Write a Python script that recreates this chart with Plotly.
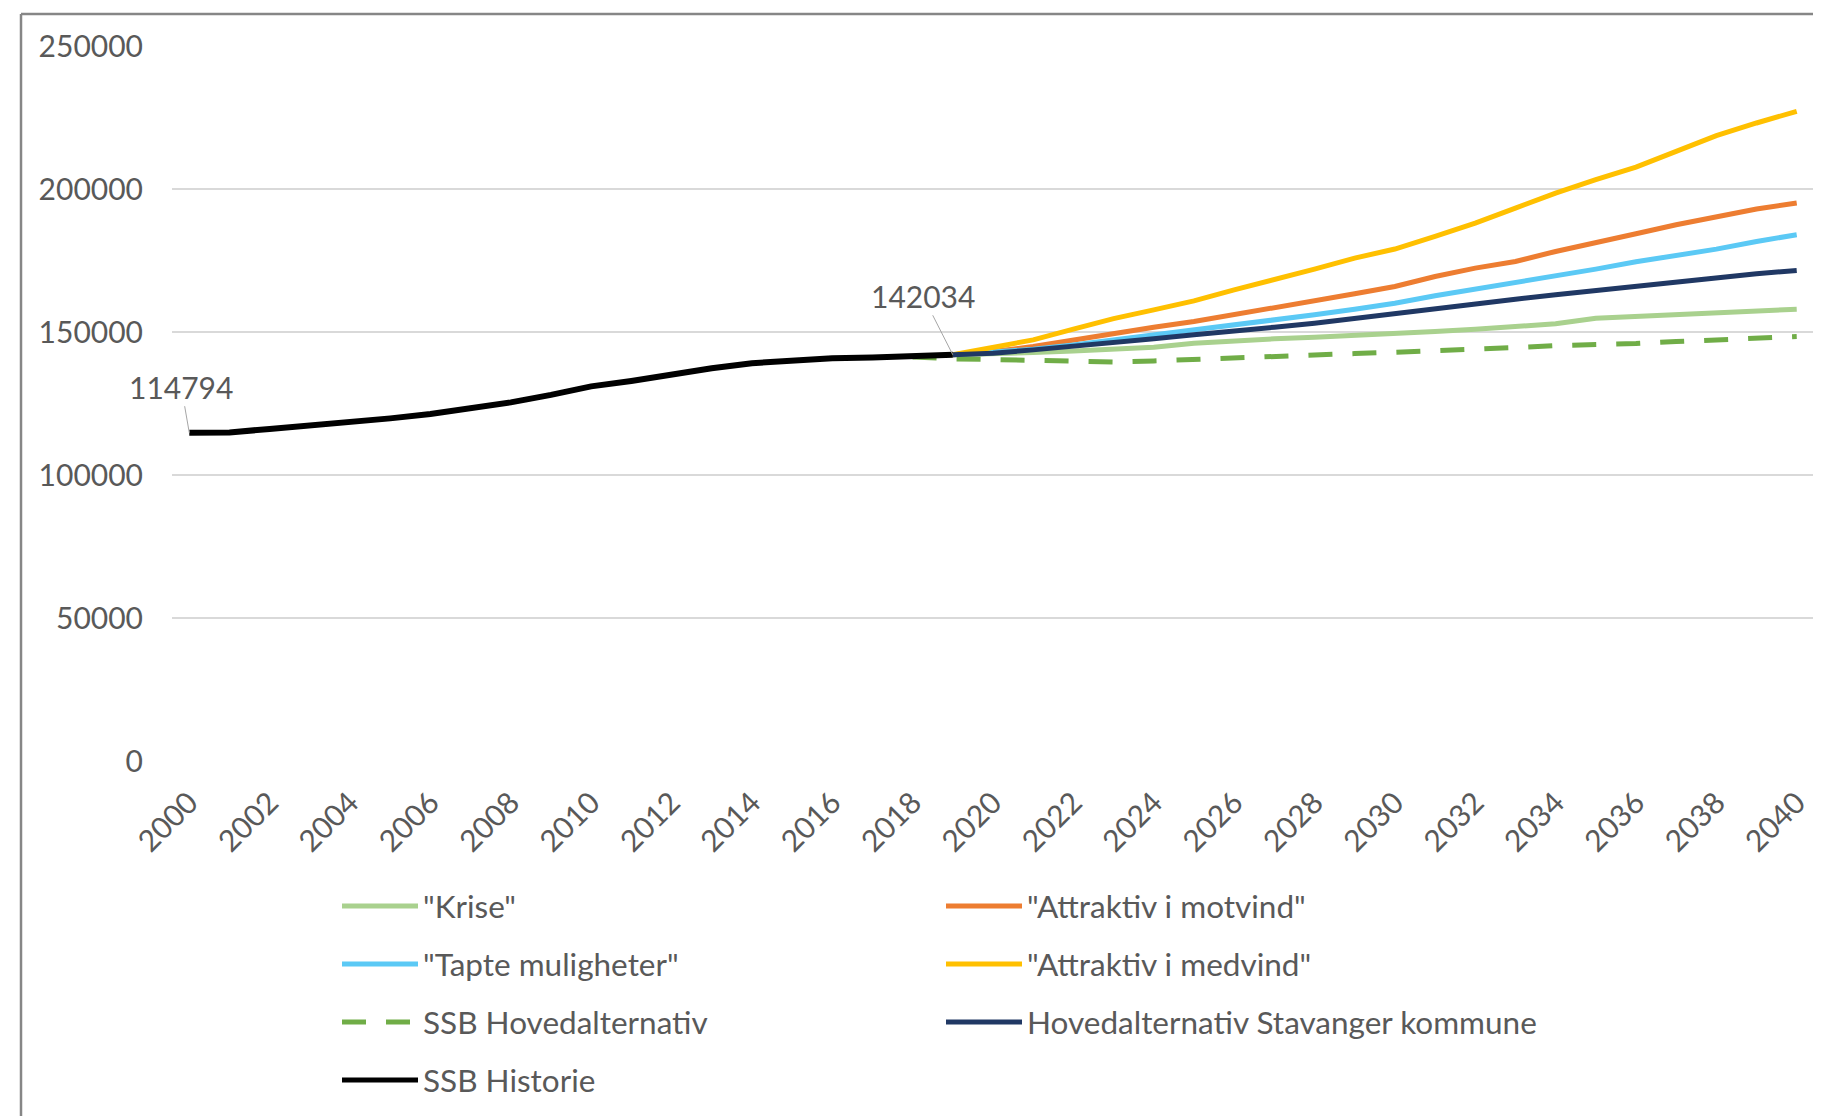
import plotly.graph_objects as go

# Befolkning Stavanger, historikk og scenarier
HIST_YEARS = list(range(2000, 2020))
SSB_HISTORIE = [114794, 114900, 116100, 117200, 118400, 119800, 121300, 123300, 125400, 128000,
                131000, 132900, 135200, 137300, 139100, 140200, 140800, 141100, 141500, 142034]

PROJ_YEARS = list(range(2019, 2041))
KRISE = [142034, 142245, 142800, 143400, 143980, 144690, 146090, 147000, 147600, 148200, 148760,
         149350, 150160, 150980, 151910, 152850, 154840, 155410, 156000, 156580, 157280, 157980]
MOTVIND = [142034, 143150, 144900, 147250, 149580, 151680, 153660, 156000, 158330, 160660, 163350,
           165910, 169410, 172330, 174660, 178160, 181080, 184350, 187490, 190410, 193000, 195080]
TAPTE = [142034, 142800, 143980, 145500, 147250, 148760, 150510, 152150, 153900, 156000, 157990,
         160080, 162650, 164980, 167310, 169410, 171980, 174550, 176650, 178980, 181650, 184000]
MEDVIND = [142034, 144690, 147250, 150990, 154700, 157750, 160900, 164750, 168250, 171990, 175840,
           179000, 183410, 188080, 193330, 198580, 203250, 207680, 213160, 218650, 223080, 227150]
STAVANGER = [142034, 142580, 143750, 144910, 146310, 147600, 149000, 150510, 151680, 153080, 154840,
             156580, 158210, 159850, 161480, 163000, 164510, 166150, 167660, 169180, 170350, 171510]

SSB_YEARS = list(range(2018, 2041))
SSB_HOVED = [141300, 140600, 140360, 139990, 139660, 139545, 139895, 140490, 141060, 141645, 141995,
             142460, 142930, 143395, 143980, 144560, 145260, 145490, 145960, 146660, 147130, 147830,
             148400]

X_TICKS = list(range(2000, 2041, 2))
Y_TICKS = [0, 50000, 100000, 150000, 200000, 250000]

FONT = "Lato, 'Open Sans', sans-serif"
TEXT_COLOR = "#595959"

# the page body adds an 8px margin, so the figure is drawn 8px smaller
PAGE_OFFSET = 8
W, H = 1813, 1108
L, R, T, B = 164, 7, 38, 355
PLOT_W = W - L - R
PLOT_H = H - T - B


def px_x(px):
    # page pixel -> paper x
    return (px - PAGE_OFFSET - L) / PLOT_W


def px_y(py):
    # page pixel -> paper y
    return (T + PLOT_H - (py - PAGE_OFFSET)) / PLOT_H


series = [
    ('"Krise"', PROJ_YEARS, KRISE, "#A9D18E", "solid"),
    ('"Attraktiv i motvind"', PROJ_YEARS, MOTVIND, "#ED7D31", "solid"),
    ('"Tapte muligheter"', PROJ_YEARS, TAPTE, "#5BC9F5", "solid"),
    ('"Attraktiv i medvind"', PROJ_YEARS, MEDVIND, "#FFC000", "solid"),
    ("SSB Hovedalternativ", SSB_YEARS, SSB_HOVED, "#70AD47", "24px,20px"),
    ("Hovedalternativ Stavanger kommune", PROJ_YEARS, STAVANGER, "#203864", "solid"),
    ("SSB Historie", HIST_YEARS, SSB_HISTORIE, "#000000", "solid"),
]

fig = go.Figure()
for name, xs, ys, color, dash in series:
    fig.add_trace(
        go.Scatter(
            x=xs,
            y=ys,
            mode="lines",
            name=name,
            line={"color": color, "width": 6 if color == "#000000" else 5, "dash": dash},
            showlegend=False,
        )
    )

# data labels with leader lines
for year, value, ax, ay in [(2000, SSB_HISTORIE[0], -8, -46), (2019, SSB_HISTORIE[-1], -30, -59)]:
    fig.add_annotation(
        x=year, y=value, text=str(value),
        showarrow=True, arrowhead=0, arrowwidth=1, arrowcolor="#A6A6A6",
        ax=ax, ay=ay, standoff=0,
        font={"family": FONT, "size": 30, "color": TEXT_COLOR},
    )

# manual legend (two columns, row-wise like Excel)
col_x = [342, 946]
row_y = [906, 964, 1022, 1080]
shapes = []
for i, (name, _, _, color, dash) in enumerate(series):
    cx = col_x[i % 2]
    cy = row_y[i // 2]
    shapes.append({
        "type": "line", "xref": "paper", "yref": "paper",
        "x0": px_x(cx), "x1": px_x(cx + 76), "y0": px_y(cy), "y1": px_y(cy),
        "line": {"color": color, "width": 5, "dash": dash},
    })
    fig.add_annotation(
        xref="paper", yref="paper", x=px_x(cx + 79), y=px_y(cy),
        xanchor="left", yanchor="middle", showarrow=False, text=name,
        font={"family": FONT, "size": 31.5, "color": TEXT_COLOR},
    )

# chart border (left and top visible)
shapes.append({
    "type": "line", "xref": "paper", "yref": "paper",
    "x0": px_x(21), "x1": px_x(1840), "y0": px_y(14), "y1": px_y(14),
    "line": {"color": "#868686", "width": 2.5},
})
shapes.append({
    "type": "line", "xref": "paper", "yref": "paper",
    "x0": px_x(21), "x1": px_x(21), "y0": px_y(14), "y1": px_y(1130),
    "line": {"color": "#868686", "width": 2.5},
})

fig.update_layout(
    width=W,
    height=H,
    margin={"l": L, "r": R, "t": T, "b": B},
    paper_bgcolor="white",
    plot_bgcolor="white",
    shapes=shapes,
    font={"family": FONT, "size": 30, "color": TEXT_COLOR},
)
fig.update_xaxes(
    range=[1999.57, 2040.43],
    tickvals=X_TICKS,
    ticktext=[str(v) for v in X_TICKS],
    tickangle=-45,
    showgrid=False,
    zeroline=False,
    showline=False,
    ticks="",
    ticklabelstandoff=17,
)
fig.update_yaxes(
    range=[0, 250000],
    tickvals=Y_TICKS,
    ticktext=[str(v) for v in Y_TICKS],
    showgrid=True,
    gridcolor="#D9D9D9",
    gridwidth=2,
    zeroline=False,
    showline=False,
    ticks="",
    ticklabelstandoff=28,
)

fig.write_html("out.html")
